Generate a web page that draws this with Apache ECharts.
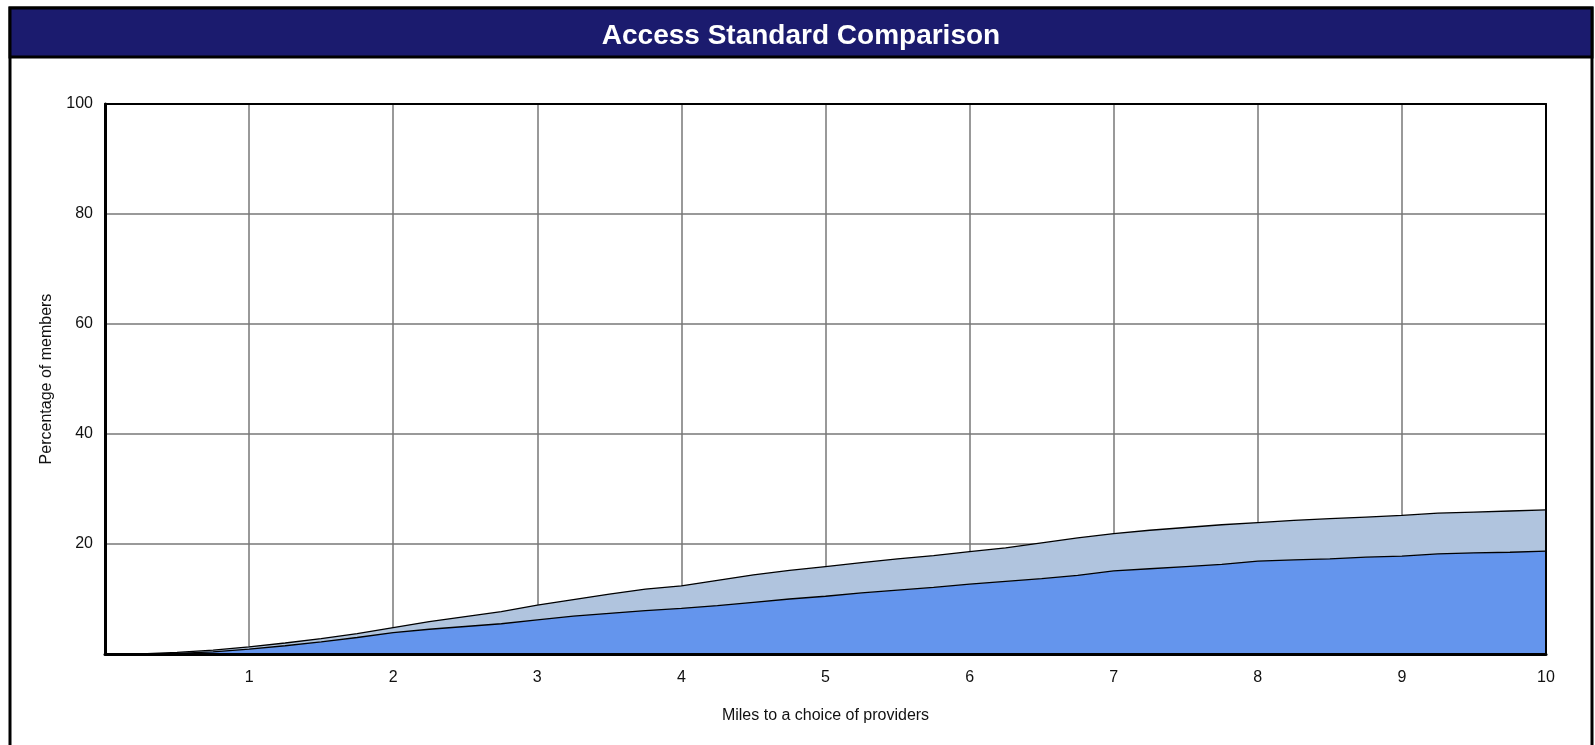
<!DOCTYPE html>
<html>
<head>
<meta charset="utf-8">
<script src="https://cdn.jsdelivr.net/npm/echarts@6/dist/echarts.min.js"></script>
<style>
html,body{margin:0;padding:0;background:#fff;}
#chart{width:1595px;height:745px;}
</style>
</head>
<body>
<div id="chart"></div>
<script>
const titleText = 'Access Standard Comparison';
const xAxisName = 'Miles to a choice of providers';
const yAxisName = 'Percentage of members';
const miles = [0,0.25,0.5,0.75,1,1.25,1.5,1.75,2,2.25,2.5,2.75,3,3.25,3.5,3.75,4,4.25,4.5,4.75,5,5.25,5.5,5.75,6,6.25,6.5,6.75,7,7.25,7.5,7.75,8,8.25,8.5,8.75,9,9.25,9.5,9.75,10];
const upperValues = [0,0,0.3,0.7,1.3,2.0,2.8,3.7,4.8,5.9,6.8,7.7,8.9,9.9,10.9,11.8,12.4,13.4,14.4,15.2,15.9,16.6,17.3,17.9,18.6,19.3,20.2,21.1,21.9,22.5,23.0,23.5,23.9,24.3,24.6,24.9,25.2,25.6,25.8,26.0,26.2];
const lowerValues = [0,0,0.1,0.4,0.9,1.5,2.2,3.0,3.9,4.5,5.0,5.5,6.2,6.9,7.4,7.9,8.3,8.8,9.4,10.0,10.5,11.1,11.6,12.1,12.7,13.2,13.7,14.3,15.1,15.5,15.9,16.3,16.9,17.1,17.3,17.6,17.8,18.2,18.4,18.5,18.7];
const xTicks = [1,2,3,4,5,6,7,8,9,10];
const yTicks = [20,40,60,80,100];

const chart = echarts.init(document.getElementById('chart'), null, {renderer:'canvas'});
const font = '"Liberation Sans", Arial, sans-serif';
const pair = (xs, ys) => xs.map((x,i)=>[x, ys[i]]);
const borderAxis = (pos, w) => ({
  type:'value', position:pos, z:10,
  axisLine:{show:true, onZero:false, lineStyle:{color:'#000', width:w}},
  axisTick:{show:false}, axisLabel:{show:false}, splitLine:{show:false}
});

chart.setOption({
  backgroundColor:'#fff',
  animation:false,
  graphic:[
    {type:'rect', z:-1, shape:{x:10,y:8,width:1582,height:760}, style:{fill:'#fff', stroke:'#000', lineWidth:3}},
    {type:'rect', z:-1, shape:{x:10,y:8,width:1582,height:49}, style:{fill:'#1b1b6e', stroke:'#000', lineWidth:3}}
  ],
  title:{
    text:titleText, left:796, textAlign:'center', top:17,
    textStyle:{color:'#fff', fontSize:28, fontWeight:'bold', fontFamily:font}
  },
  grid:{left:105, right:49, top:104, bottom:91, show:false},
  xAxis:[{
    type:'value', min:0, max:10, interval:1,
    name:xAxisName, nameLocation:'middle', nameGap:54,
    nameTextStyle:{fontSize:16, color:'#111', fontFamily:font},
    axisLine:{show:false}, axisTick:{show:false},
    axisLabel:{fontSize:16, color:'#111', fontFamily:font, margin:16,
      formatter:v => xTicks.includes(v) ? String(v) : ''},
    splitLine:{show:true, lineStyle:{color:'#777', width:1.5}}
  },
  Object.assign(borderAxis('bottom', 3), {min:0, max:10, interval:1}),
  Object.assign(borderAxis('top', 2), {min:0, max:10, interval:1})
  ],
  yAxis:[{
    type:'value', min:0, max:100, interval:20,
    name:yAxisName, nameLocation:'middle', nameGap:50,
    nameTextStyle:{fontSize:16, color:'#111', fontFamily:font},
    axisLine:{show:false}, axisTick:{show:false},
    axisLabel:{fontSize:16, color:'#111', fontFamily:font, margin:12,
      formatter:v => yTicks.includes(v) ? String(v) : ''},
    splitLine:{show:true, lineStyle:{color:'#777', width:1.5}}
  },
  Object.assign(borderAxis('left', 3), {min:0, max:100, interval:20}),
  Object.assign(borderAxis('right', 2), {min:0, max:100, interval:20})
  ],
  series:[
    {type:'line', name:'Upper', data:pair(miles, upperValues), symbol:'none', z:2,
      lineStyle:{color:'#000', width:1.3}, areaStyle:{color:'#b0c4de', opacity:1}},
    {type:'line', name:'Lower', data:pair(miles, lowerValues), symbol:'none', z:3,
      lineStyle:{color:'#000', width:1.3}, areaStyle:{color:'#6495ed', opacity:1}}
  ]
});
</script>
</body>
</html>
